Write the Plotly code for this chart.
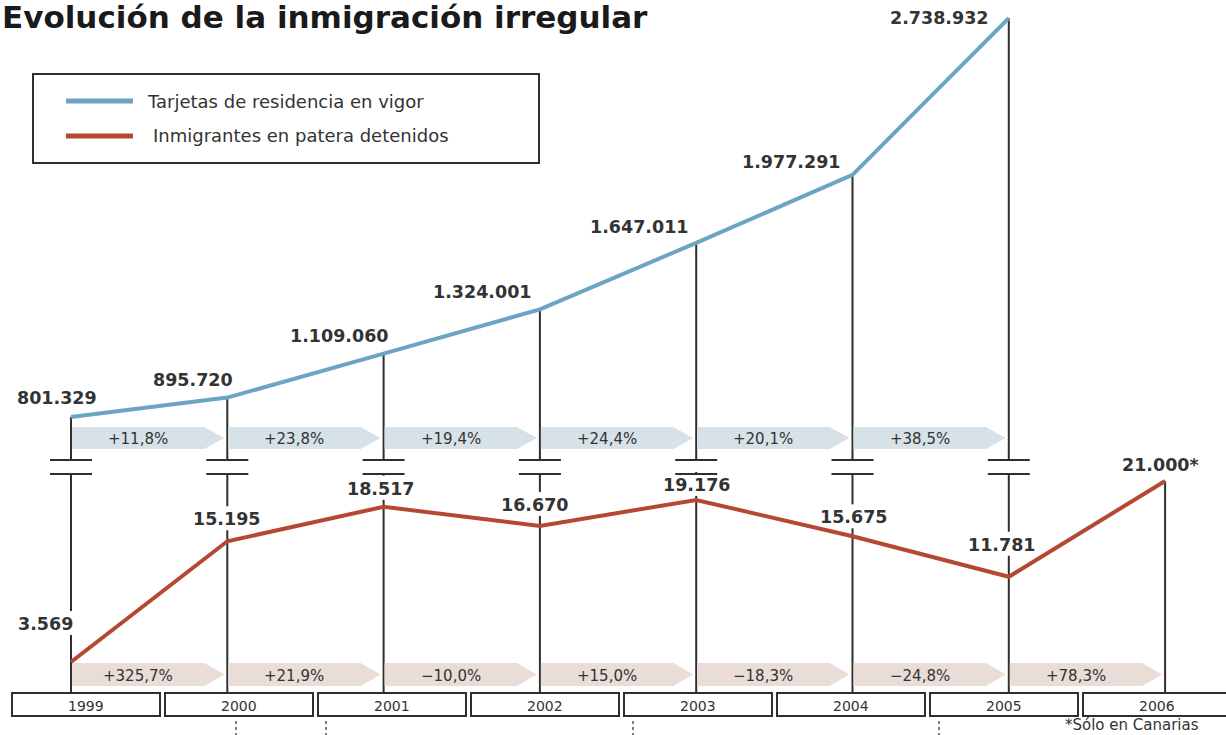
import plotly.graph_objects as go

# ---- data -------------------------------------------------------------
YEARS = [1999, 2000, 2001, 2002, 2003, 2004, 2005, 2006]
TARJETAS = [801329, 895720, 1109060, 1324001, 1647011, 1977291, 2738932]   # 1999-2005
PATERAS = [3569, 15195, 18517, 16670, 19176, 15675, 11781, 21000]          # 1999-2006
PATERAS_NOTE = ["", "", "", "", "", "", "", "*"]                           # 2006: only Canarias

TITLE = "Evolución de la inmigración irregular"
NAME_TARJETAS = "Tarjetas de residencia en vigor"
NAME_PATERAS = "Inmigrantes en patera detenidos"
FOOTNOTE = "*Sólo en Canarias"

# ---- page geometry (pixels) --------------------------------------------
W, H = 1226, 735
X_PX0, X_STEP = 71.0, 156.3            # pixel of 1999 and pixels per year
B_REF_V, B_REF_P, B_SCALE = 801329, 417.0, 0.0002059   # upper scale
R_REF_V, R_REF_P, R_SCALE = 15198, 541.25, 0.010386    # lower scale

BLUE = "#6ba5c3"
RED = "#b44830"
INK = "#2e2e2e"
TXT = "#333333"
BAND_BLUE = "#d6e1e8"
BAND_RED = "#eadcd7"

BREAK_TOP, BREAK_BOT = 460, 474
BAND_B = (427, 449)
BAND_R = (663, 686)
BOX_TOP, BOX_BOT = 693, 716
BOX_X0, BOX_STEP, BOX_W = 12, 153.0, 148

# label offsets (dx, dy up) in pixels
BLUE_LBL_OFF = [(-14, 19), (-34, 18), (-44, 18), (-57, 17), (-57, 16), (-61, 13), (-69, 0)]
RED_LBL_OFF = [(-26, 38), (0, 22), (-3, 18), (-5, 21), (1, 15), (1, 19), (-7, 32), (-5, 16)]


def year_px(yr):
    return X_PX0 + (yr - YEARS[0]) * X_STEP


def blue_px(v):
    return B_REF_P - (v - B_REF_V) * B_SCALE


def red_px(v):
    return R_REF_P - (v - R_REF_V) * R_SCALE


def px(x):
    return x / W


def py(y):
    return 1 - y / H


def fmt_num(v):
    return f"{v:,}".replace(",", ".")


def fmt_pct(a, b):
    c = (b / a - 1) * 100
    sign = "+" if c >= 0 else "\u2212"
    return f"{sign}{abs(c):.1f}%".replace(".", ",")


fig = go.Figure()

# ---- series -------------------------------------------------------------
fig.add_trace(go.Scatter(
    x=YEARS[:len(TARJETAS)], y=TARJETAS, mode="lines", name=NAME_TARJETAS,
    line=dict(color=BLUE, width=4), showlegend=False, hoverinfo="skip"))
fig.add_trace(go.Scatter(
    x=YEARS, y=PATERAS, mode="lines", name=NAME_PATERAS, yaxis="y2",
    line=dict(color=RED, width=4), showlegend=False, hoverinfo="skip"))

shapes = []
annotations = []


def text_at(x, y, text, size, anchor="center", weight="normal", color=TXT):
    annotations.append(dict(xref="paper", yref="paper", x=px(x), y=py(y),
                            xanchor=anchor, yanchor="middle", text=text, showarrow=False,
                            font=dict(family="DejaVu Sans", size=size, color=color,
                                      weight=weight)))


def vline(x, y0, y1, width=2, color=INK, dash=None):
    ln = dict(color=color, width=width)
    if dash:
        ln["dash"] = dash
    shapes.append(dict(type="line", xref="paper", yref="paper",
                       x0=px(x), x1=px(x), y0=py(y0), y1=py(y1),
                       line=ln, layer="below"))


def hline(x0, x1, y, width=2, color=INK):
    shapes.append(dict(type="line", xref="paper", yref="paper",
                       x0=px(x0), x1=px(x1), y0=py(y), y1=py(y),
                       line=dict(color=color, width=width), layer="below"))


# ---- connectors with axis breaks -----------------------------------------
for i, yr in enumerate(YEARS):
    x = year_px(yr)
    r_center = red_px(PATERAS[i]) - RED_LBL_OFF[i][1]
    if i < len(TARJETAS):
        vline(x, blue_px(TARJETAS[i]), BREAK_TOP)
        hline(x - 21, x + 21, BREAK_TOP)
        hline(x - 21, x + 21, BREAK_BOT)
        vline(x, BREAK_BOT, r_center - 13)
        vline(x, r_center + 11, BOX_TOP)
    else:
        vline(x, red_px(PATERAS[i]), BOX_TOP)


# ---- change bands ----------------------------------------------------------
def band(x0, x1, top, bot, color, text):
    tip = 20
    xs = x1 - tip
    yc = (top + bot) / 2
    path = (f"M {px(x0)},{py(top)} L {px(xs)},{py(top)} L {px(x1)},{py(yc)} "
            f"L {px(xs)},{py(bot)} L {px(x0)},{py(bot)} Z")
    shapes.append(dict(type="path", xref="paper", yref="paper", path=path,
                       fillcolor=color, line=dict(width=0), layer="below"))
    text_at((x0 + xs) / 2, yc + 1, text, 15)


for i in range(len(TARJETAS) - 1):
    band(year_px(YEARS[i]) + 1, year_px(YEARS[i + 1]) - 3, *BAND_B, BAND_BLUE,
         fmt_pct(TARJETAS[i], TARJETAS[i + 1]))
for i in range(len(PATERAS) - 1):
    band(year_px(YEARS[i]) + 1, year_px(YEARS[i + 1]) - 3, *BAND_R, BAND_RED,
         fmt_pct(PATERAS[i], PATERAS[i + 1]))

# ---- value labels -----------------------------------------------------------
LBL_FONT = dict(family="DejaVu Sans", size=17.5, color=TXT, weight="bold")
for i, v in enumerate(TARJETAS):
    dx, dy = BLUE_LBL_OFF[i]
    annotations.append(dict(x=YEARS[i], y=v, xref="x", yref="y", text=fmt_num(v),
                            xanchor="center", yanchor="middle",
                            xshift=dx, yshift=dy, showarrow=False, font=LBL_FONT))
for i, v in enumerate(PATERAS):
    dx, dy = RED_LBL_OFF[i]
    annotations.append(dict(x=YEARS[i], y=v, xref="x", yref="y2",
                            text=fmt_num(v) + PATERAS_NOTE[i],
                            xanchor="center", yanchor="middle",
                            xshift=dx, yshift=dy, showarrow=False, font=LBL_FONT))

# ---- year boxes -------------------------------------------------------------
for i, yr in enumerate(YEARS):
    bx0 = BOX_X0 + i * BOX_STEP
    shapes.append(dict(type="rect", xref="paper", yref="paper",
                       x0=px(bx0), x1=px(bx0 + BOX_W), y0=py(BOX_TOP), y1=py(BOX_BOT),
                       line=dict(color=INK, width=2), fillcolor="white"))
    text_at(bx0 + BOX_W / 2, (BOX_TOP + BOX_BOT) / 2 + 1, str(yr), 14)

# small dotted ticks under the boxes
for xd in (236, 326, 633, 939):
    vline(xd, 721, 735, width=1.5, color="#555555", dash="dot")

# ---- legend -----------------------------------------------------------------
shapes.append(dict(type="rect", xref="paper", yref="paper",
                   x0=px(33), x1=px(539), y0=py(74), y1=py(163),
                   line=dict(color=INK, width=2)))
for (yy, col, name, tx) in ((101, BLUE, NAME_TARJETAS, 145), (136, RED, NAME_PATERAS, 151)):
    shapes.append(dict(type="line", xref="paper", yref="paper",
                       x0=px(66), x1=px(133), y0=py(yy), y1=py(yy),
                       line=dict(color=col, width=5)))
    text_at(tx, yy, name, 18, anchor="left")

# ---- title and footnote -------------------------------------------------------
text_at(0, 17, TITLE, 31, anchor="left", weight="bold", color="#1a1a1a")
text_at(1063, 725, FOOTNOTE, 15, anchor="left")

fig.update_layout(
    width=W, height=H, margin=dict(l=0, r=0, t=0, b=0, pad=0),
    paper_bgcolor="white", plot_bgcolor="white",
    xaxis=dict(range=[YEARS[0] - X_PX0 / X_STEP, YEARS[0] + (W - X_PX0) / X_STEP],
               visible=False, fixedrange=True),
    yaxis=dict(range=[B_REF_V - (H - B_REF_P) / B_SCALE, B_REF_V + B_REF_P / B_SCALE],
               visible=False, fixedrange=True),
    yaxis2=dict(range=[R_REF_V - (H - R_REF_P) / R_SCALE, R_REF_V + R_REF_P / R_SCALE],
                overlaying="y", visible=False, fixedrange=True),
    shapes=shapes, annotations=annotations, showlegend=False,
)

fig.write_html("out.html")
